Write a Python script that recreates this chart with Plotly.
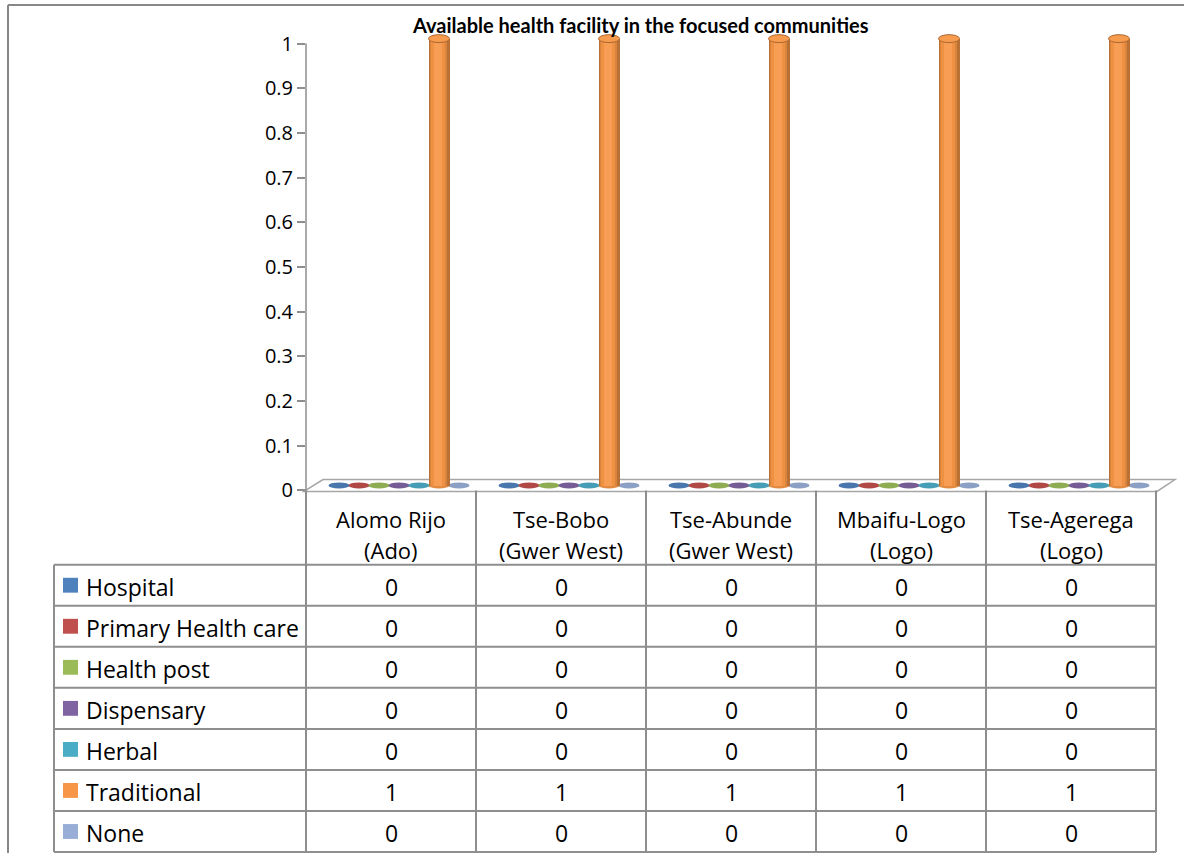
import plotly.graph_objects as go

# ---- data ----
categories = [
    "Alomo Rijo\n(Ado)",
    "Tse-Bobo\n(Gwer West)",
    "Tse-Abunde\n(Gwer West)",
    "Mbaifu-Logo\n(Logo)",
    "Tse-Agerega\n(Logo)",
]
series_names = ["Hospital", "Primary Health care", "Health post", "Dispensary",
                "Herbal", "Traditional", "None"]
hospital = [0, 0, 0, 0, 0]
primary_health_care = [0, 0, 0, 0, 0]
health_post = [0, 0, 0, 0, 0]
dispensary = [0, 0, 0, 0, 0]
herbal = [0, 0, 0, 0, 0]
traditional = [1, 1, 1, 1, 1]
none_ = [0, 0, 0, 0, 0]
series_values = [hospital, primary_health_care, health_post, dispensary,
                 herbal, traditional, none_]
series_colors = ["#4F81BD", "#C0504D", "#9BBB59", "#8064A2",
                 "#4BACC6", "#F79646", "#98AED6"]
title_text = "Available health facility in the focused communities"

# ---- page geometry (pixels) ----
W, H = 1184, 861
PLOT_L, PLOT_R = 306, 1156          # x axis extent
Y0_PX, Y1_PX = 495, 44              # pixel rows of value 0 and value 1
AREA_TOP, AREA_BOT = 30, 500        # y axis domain in pixels
TABLE_L = 54
HEADER_BOT = 570
ROW_H = (860 - HEADER_BOT) / 7
FONT = "'Open Sans', Lato, sans-serif"
TITLE_FONT = "Lato, 'Open Sans', sans-serif"
FS = 23
HEAD_FS = 22
TICK_FS = 20
GRID = "#8E8E8E"

def px(x):
    return x / W

def py(y):
    return 1 - y / H

unit = (Y0_PX - Y1_PX)              # pixels per value unit
y_lo = (Y0_PX - AREA_BOT) / unit
y_hi = (Y0_PX - AREA_TOP) / unit
col_w = (PLOT_R - PLOT_L) / len(categories)

depth = 5 / unit                    # 3-D depth lift of the series row
slot = 20 / col_w                   # spacing of series within a category
first_slot = -52 / col_w
bar_w = 21 / col_w
disk_h = 6 / unit
top_h = 8 / unit


def shade(hex_color, f):
    """Blend a colour toward black (f<0) or white (f>0)."""
    h = hex_color.lstrip("#")
    r, g, b = int(h[0:2], 16), int(h[2:4], 16), int(h[4:6], 16)
    if f < 0:
        r, g, b = [int(c * (1 + f)) for c in (r, g, b)]
    else:
        r, g, b = [int(c + (255 - c) * f) for c in (r, g, b)]
    return f"#{r:02x}{g:02x}{b:02x}"


fig = go.Figure()
shapes = []
annotations = []

# floor of the 3-D plot area
shapes.append(dict(
    type="path", xref="paper", yref="paper",
    path=(f"M {px(304)},{py(496)} L {px(323)},{py(484)} "
          f"L {px(1175)},{py(484)} L {px(1157)},{py(496)} Z"),
    line=dict(color="#A6A6A6", width=1.5), fillcolor="rgba(0,0,0,0)", layer="below",
))

# cylinders: layered bars give the rounded shading
layers = [(1.0, 0.0, -0.25), (0.84, -0.02, -0.12), (0.64, -0.04, -0.03),
          (0.36, -0.06, 0.08)]
for j, (name, vals, col) in enumerate(zip(series_names, series_values, series_colors)):
    xs = [i + first_slot + j * slot for i in range(len(categories))]
    for frac, dx, f in layers:
        fig.add_trace(go.Bar(
            x=[x + dx * bar_w for x in xs], y=vals, base=[depth] * len(vals),
            width=bar_w * frac, marker=dict(color=shade(col, f), line=dict(width=0)),
            name=name, showlegend=False, hoverinfo="skip",
        ))
    for x, v in zip(xs, vals):
        # base disk (visible on its own for zero values)
        shapes.append(dict(
            type="circle", xref="x", yref="y", layer="below",
            x0=x - bar_w / 2, x1=x + bar_w / 2,
            y0=depth - disk_h / 2, y1=depth + disk_h / 2,
            fillcolor=shade(col, -0.08), line=dict(width=0),
        ))
        if v > 0:
            top = v + depth
            shapes.append(dict(
                type="circle", xref="x", yref="y", layer="above",
                x0=x - bar_w / 2, x1=x + bar_w / 2,
                y0=top - top_h / 2, y1=top + top_h / 2,
                fillcolor=shade(col, 0.05), line=dict(color=shade(col, -0.3), width=1),
            ))

# y axis line
shapes.append(dict(type="line", xref="paper", yref="y", x0=px(PLOT_L), x1=px(PLOT_L),
                   y0=0, y1=1, line=dict(color=GRID, width=1.5)))

# data table grid
for k in range(len(categories) + 1):
    xk = PLOT_L + k * col_w
    shapes.append(dict(type="line", xref="paper", yref="paper",
                       x0=px(xk), x1=px(xk), y0=py(Y0_PX), y1=py(860),
                       line=dict(color=GRID, width=2)))
shapes.append(dict(type="line", xref="paper", yref="paper",
                   x0=px(TABLE_L), x1=px(TABLE_L), y0=py(HEADER_BOT), y1=py(860),
                   line=dict(color=GRID, width=2)))
for r in range(len(series_names) + 1):
    yr = HEADER_BOT + r * ROW_H
    shapes.append(dict(type="line", xref="paper", yref="paper",
                       x0=px(TABLE_L), x1=px(PLOT_R), y0=py(yr), y1=py(yr),
                       line=dict(color=GRID, width=2)))

# chart frame
shapes.append(dict(type="line", xref="paper", yref="paper", x0=px(8), x1=1,
                   y0=py(5), y1=py(5), line=dict(color="#878787", width=2)))
shapes.append(dict(type="line", xref="paper", yref="paper", x0=px(8), x1=px(8),
                   y0=py(5), y1=0, line=dict(color="#878787", width=2)))

# category header row
for i, cat in enumerate(categories):
    lines = cat.split("\n")
    for n, text in enumerate(lines):
        annotations.append(dict(
            x=i, xref="x", y=py(524 + n * 31), yref="paper", text=text,
            showarrow=False, xanchor="center", yanchor="middle",
            font=dict(family=FONT, size=HEAD_FS, color="#000000"),
        ))

# legend keys + value cells
for r, (name, vals, col) in enumerate(zip(series_names, series_values, series_colors)):
    yc = HEADER_BOT + (r + 0.5) * ROW_H
    shapes.append(dict(type="rect", xref="paper", yref="paper",
                       x0=px(63), x1=px(78), y0=py(yc - 7.5), y1=py(yc + 7.5),
                       fillcolor=col, line=dict(width=0)))
    annotations.append(dict(
        x=px(84), y=py(yc + 2), xref="paper", yref="paper", text=name,
        showarrow=False, xanchor="left", yanchor="middle",
        font=dict(family=FONT, size=FS, color="#000000"),
    ))
    for i, v in enumerate(vals):
        annotations.append(dict(
            x=i, xref="x", y=py(yc + 2), yref="paper", text=f"{v:g}",
            showarrow=False, xanchor="center", yanchor="middle",
            font=dict(family=FONT, size=FS, color="#000000"),
        ))

# title
annotations.append(dict(
    x=px(640), y=py(25), xref="paper", yref="paper", text=f"<b>{title_text}</b>",
    showarrow=False, xanchor="center", yanchor="middle",
    font=dict(family=TITLE_FONT, size=20, color="#000000"),
))

fig.update_layout(
    width=W, height=H, autosize=False,
    margin=dict(l=0, r=0, t=0, b=0),
    paper_bgcolor="#FFFFFF", plot_bgcolor="rgba(0,0,0,0)",
    barmode="overlay", bargap=0,
    showlegend=False,
    shapes=shapes, annotations=annotations,
    xaxis=dict(domain=[px(PLOT_L), px(PLOT_R)], range=[-0.5, len(categories) - 0.5],
               showgrid=False, zeroline=False, showline=False,
               showticklabels=False, ticks=""),
    yaxis=dict(domain=[py(AREA_BOT), py(AREA_TOP)], range=[y_lo, y_hi],
               showgrid=False, zeroline=False, showline=False,
               tickvals=[k / 10 for k in range(11)],
               ticktext=[f"{k / 10:g}" for k in range(11)],
               ticks="outside", ticklen=8, tickcolor=GRID, tickwidth=1.5,
               tickfont=dict(family=FONT, size=TICK_FS, color="#000000")),
)

fig.write_html("out.html")
